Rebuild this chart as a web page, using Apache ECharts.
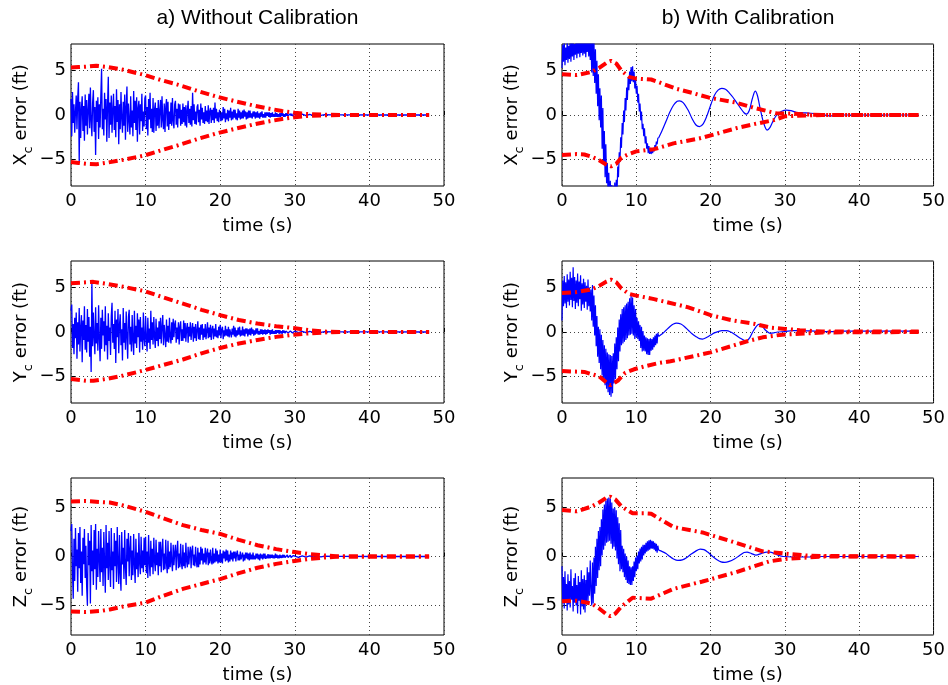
<!DOCTYPE html>
<html><head><meta charset="utf-8">
<script src="https://cdn.jsdelivr.net/npm/echarts@6/dist/echarts.min.js"></script>
<style>html,body{margin:0;padding:0;background:#fff}#c{width:948px;height:685px}</style>
</head><body><div id="c"></div><script>
// ---------------- DATA ----------------
const X_TICKS = [0, 10, 20, 30, 40, 50];
const Y_TICKS = [-5, 0, 5];
const TITLES = ['a) Without Calibration', 'b) With Calibration'];
const ROW_SYMBOLS = ['X', 'Y', 'Z'];

// Left column (without calibration): blue samples every DT_LEFT seconds from t=0 to t=30 (one row per second)
const DT_LEFT = 0.1;
const LX_NOISE = [
1.8,-2.4,2.6,-0.9,1.2,-2.0,0.4,2.2,-1.6,1.9,
3.7,-5.3,1.5,-2.6,0.8,2.1,-1.8,1.0,-2.9,2.3,
-1.2,1.7,-2.2,0.6,2.4,-1.5,3.1,-0.7,-2.4,1.4,
2.8,-1.9,0.9,-4.5,1.6,-0.8,2.0,-2.7,1.2,-1.4,
2.2,5.2,-1.6,0.7,-2.3,2.5,-0.5,1.8,-3.0,1.1,
4.3,-2.6,1.4,-1.1,2.2,-2.0,0.6,2.4,-1.7,1.0,
-2.5,2.9,-0.8,1.7,-3.3,1.2,-1.6,2.6,-0.4,-2.0,
1.5,-1.2,2.3,-2.8,0.9,3.2,-1.9,1.3,-0.6,-2.2,
2.1,-1.4,0.5,-2.4,2.7,-0.9,1.6,-1.7,2.0,-3.0,
0.8,1.6,-2.2,1.2,-0.7,2.4,-1.8,0.4,-1.3,1.9,
2.2,-1.6,0.9,-2.3,1.8,-0.5,2.5,-1.5,0.7,-1.9,
1.9,-2.0,0.6,1.4,-1.8,0.8,-1.2,1.7,-1.5,0.5,
1.7,-1.4,2.1,-0.6,-1.6,1.3,-1.9,0.9,1.8,-1.3,
1.5,-1.7,0.4,-1.0,1.4,-1.2,1.9,-0.7,-1.5,1.2,
1.6,-1.1,0.7,-1.4,1.3,-0.4,1.2,-1.2,0.6,-1.0,
1.3,-0.8,0.9,-1.2,1.1,-1.4,0.5,1.6,-0.9,0.7,
-1.1,1.0,-1.3,2.5,-0.6,1.2,-1.0,0.4,-1.1,0.9,
1.2,-0.8,0.6,-1.2,1.3,-0.5,0.8,-0.9,0.3,-1.0,
1.0,-0.7,0.5,-0.8,1.1,-1.0,0.4,0.8,-0.9,0.6,
-0.6,0.8,-0.9,1.4,-0.4,0.7,-0.7,0.3,-0.8,0.6,
0.8,-0.7,0.3,-0.6,0.9,-0.4,0.7,-0.8,0.2,-0.5,
0.6,-0.7,0.5,-0.3,0.8,-0.6,0.4,-0.5,0.6,-0.3,
0.6,-0.5,0.2,-0.6,0.7,-0.3,0.5,-0.5,0.3,-0.4,
0.5,-0.4,0.6,-0.2,0.4,-0.5,0.3,-0.4,0.5,-0.3,
0.5,-0.3,0.2,-0.4,0.4,-0.2,0.4,-0.4,0.3,-0.3,
0.4,-0.3,0.2,-0.4,0.3,-0.2,0.4,-0.3,0.1,-0.3,
0.3,-0.3,0.3,-0.1,0.3,-0.2,0.3,-0.3,0.2,-0.2,
0.3,-0.2,0.1,-0.2,0.3,-0.2,0.2,-0.2,0.1,-0.2,
0.2,-0.2,0.2,-0.1,0.2,-0.2,0.1,-0.2,0.2,-0.1,
0.2,-0.1,0.1,-0.2,0.15,-0.1,0.15,-0.1,0.1,-0.1,
0.1];
const LY_NOISE = [
2.4,3.1,-1.8,0.9,-2.5,1.6,-0.7,2.2,-3.0,1.1,
-1.4,2.7,-2.2,0.5,1.9,-3.4,1.3,-0.9,2.9,-2.0,
0.8,-2.3,2.6,-1.1,1.7,-2.8,0.6,-4.5,5.7,-1.6,
2.2,-0.6,-2.5,2.8,-1.3,1.0,-2.1,3.0,-0.8,-3.3,
1.6,-1.9,2.5,-0.4,1.2,-2.2,2.9,-1.5,0.7,-3.1,
2.1,-1.0,0.5,-2.6,1.8,3.3,-1.2,0.9,-1.9,2.4,
-3.5,1.4,-0.6,2.6,-2.4,0.8,2.0,-1.5,0.3,-3.2,
2.7,-1.2,1.0,-2.0,2.3,-0.5,-3.0,1.7,2.5,-1.4,
0.6,-2.2,1.9,-0.9,-2.6,2.4,-1.3,0.7,-1.8,2.1,
-0.6,1.4,-2.3,1.7,-1.1,0.5,-2.0,2.2,-0.8,-1.6,
1.8,-0.7,-2.2,1.6,-1.2,0.4,-1.9,2.4,-0.9,1.1,
-1.4,1.7,-0.6,-1.8,1.5,-1.0,0.5,-1.6,1.2,-0.8,
1.6,-1.3,0.6,1.9,-1.5,0.8,-0.4,-1.7,1.4,-1.1,
0.7,-1.2,1.6,-0.5,-1.3,1.1,-0.9,1.5,-0.6,0.9,
1.3,-1.2,0.5,-0.8,1.1,-1.4,0.6,1.2,-1.0,0.3,
-1.0,1.3,-0.7,1.0,-1.1,0.4,1.0,-1.2,0.6,-0.5,
1.1,-0.9,0.3,1.0,-1.1,0.6,-0.7,0.9,-1.0,0.2,
1.2,-0.8,0.5,-0.9,0.8,-0.3,0.9,-0.9,0.4,-0.6,
0.9,-0.8,0.2,1.1,-0.7,0.5,-0.6,0.8,-0.9,0.3,
0.7,-0.8,0.4,-0.5,0.9,-0.6,0.2,-0.7,0.6,-0.4,
0.8,-0.7,0.3,0.6,-0.8,0.2,-0.5,0.7,-0.4,0.3,
-0.5,0.6,-0.6,0.3,0.5,-0.6,0.4,-0.3,0.7,-0.5,
0.5,-0.6,0.2,-0.4,0.5,-0.3,0.6,-0.5,0.2,-0.4,
0.6,-0.4,0.3,-0.5,0.4,-0.2,0.4,-0.5,0.3,-0.3,
0.4,-0.4,0.5,-0.2,0.3,-0.4,0.2,-0.3,0.4,-0.2,
0.4,-0.3,0.1,-0.3,0.3,-0.2,0.3,-0.3,0.2,-0.2,
0.3,-0.3,0.2,-0.2,0.3,-0.1,0.2,-0.3,0.2,-0.2,
0.3,-0.2,0.1,-0.2,0.2,-0.2,0.2,-0.1,0.2,-0.2,
0.2,-0.15,0.1,-0.2,0.2,-0.1,0.15,-0.15,0.1,-0.1,
0.15,-0.1,0.1,-0.15,0.1,-0.1,0.1,-0.1,0.12,-0.08,
0.1];
const LZ_NOISE = [
2.6,3.3,-1.7,-4.3,1.8,-2.5,2.9,-1.0,0.7,-3.6,
2.4,-1.2,3.0,-2.7,0.5,-4.0,1.9,-0.8,2.8,-2.2,
1.1,-3.1,-5.0,2.4,-0.9,1.6,-4.8,3.2,-1.5,0.6,
-2.9,2.7,-1.3,3.3,-3.4,0.8,-2.1,2.6,-0.4,-2.6,
2.8,-1.6,0.9,-3.0,2.5,-0.7,-3.7,3.2,-1.2,1.4,
-2.4,2.6,-0.9,-3.1,2.9,-1.4,0.5,-3.3,2.4,-1.0,
1.6,-2.6,3.0,-0.6,-2.8,2.2,-1.7,-3.5,2.5,-0.8,
0.9,-2.3,2.7,-1.1,-2.9,1.8,-0.5,2.4,-2.0,0.7,
2.1,-2.4,0.6,-1.9,2.3,-0.8,-2.7,1.8,-1.3,0.4,
-2.1,2.4,-0.7,-1.8,2.0,-1.2,0.6,-1.6,1.9,-0.9,
2.0,-1.7,0.5,-2.2,2.2,-0.6,-2.0,1.6,-1.1,0.8,
-1.8,1.9,-0.5,-1.5,1.7,-0.9,0.4,-1.9,1.5,-1.0,
1.5,-1.6,0.6,1.8,-1.4,0.3,-1.3,1.7,-0.7,-1.7,
1.6,-1.3,0.5,-1.1,1.4,-0.6,-1.5,1.2,-0.9,0.4,
1.2,-1.4,0.5,1.6,-1.2,0.3,-1.1,1.3,-0.7,-1.3,
1.2,-1.0,0.4,-1.2,1.4,-0.5,-1.1,1.0,-0.8,0.3,
1.0,-1.2,0.6,1.1,-0.9,0.2,-1.0,1.0,-0.5,-1.1,
0.9,-1.1,0.4,-0.8,1.0,-0.4,0.8,-0.8,0.3,-0.6,
0.9,-0.8,0.3,0.8,-0.9,0.4,-0.7,0.7,-0.4,-0.8,
0.9,-0.7,0.3,-0.6,0.8,-0.5,0.6,-0.7,0.2,-0.6,
0.7,-0.6,0.3,-0.7,0.6,-0.2,0.5,-0.5,0.7,-0.4,
0.6,-0.6,0.2,-0.5,0.6,-0.3,0.4,-0.5,0.5,-0.2,
0.5,-0.5,0.3,0.6,-0.4,0.2,-0.4,0.5,-0.3,-0.4,
0.4,-0.5,0.2,-0.4,0.4,-0.2,0.4,-0.3,0.3,-0.4,
0.4,-0.3,0.2,-0.3,0.4,-0.3,0.1,-0.3,0.3,-0.2,
0.3,-0.3,0.2,-0.4,0.3,-0.2,0.2,-0.3,0.3,-0.2,
0.3,-0.25,0.1,-0.2,0.25,-0.2,0.2,-0.2,0.2,-0.15,
0.2,-0.2,0.1,-0.2,0.3,-0.15,0.2,-0.2,0.1,-0.2,
0.2,-0.15,0.1,-0.15,0.2,-0.1,0.15,-0.1,0.1,-0.15,
0.15,-0.1,0.1,-0.1,0.12,-0.1,0.1,-0.08,0.1,-0.1,
0.08];
const LEFT_TAIL_T = [30.5,31,31.5,32,32.5,33,33.5,34,35,36,42,48];
const LX_TAIL_V = [-0.1,0.1,-0.08,0.08,-0.06,0.06,-0.04,0.04,0.02,0.02,0,0];
const LY_TAIL_V = [-0.08,0.08,-0.07,0.06,-0.05,0.05,-0.04,0.03,0.02,0.01,0.01,0];
const LZ_TAIL_V = [-0.08,0.07,-0.06,0.06,-0.05,0.04,-0.04,0.03,0.02,0.01,0,0];

// Left column bounds (red)
const LX_BOUND_T = [0,1,2,3.4,5,7,9.9,12,14.4,17,19.4,22,24.3,26.3,28.3,30,31.5,34,36,48];
const LX_UP = [5.35,5.4,5.45,5.55,5.4,5.1,4.5,3.95,3.4,2.7,2.1,1.55,1.1,0.75,0.45,0.25,0.12,0.03,0,0];
const LX_LO = [-5.3,-5.4,-5.5,-5.55,-5.35,-5.05,-4.55,-4.0,-3.4,-2.7,-2.1,-1.55,-1.1,-0.75,-0.45,-0.25,-0.12,-0.03,0,0];
const LY_BOUND_T = [0,2,3,5,7,9.9,12,15,17.5,20,22.5,25,27.5,29.8,32,34,36,48];
const LY_UP = [5.5,5.6,5.65,5.4,5.1,4.6,4.0,3.2,2.5,1.9,1.35,0.95,0.65,0.45,0.2,0.05,0,0];
const LY_LO = [-5.3,-5.5,-5.5,-5.25,-4.9,-4.3,-3.8,-3.1,-2.4,-1.8,-1.3,-0.9,-0.55,-0.3,-0.15,-0.05,0,0];
const LZ_BOUND_T = [0,2,4,5.2,7,10,12,15,17.5,20,22.5,25,27.5,30,32,34,36,48];
const LZ_UP = [5.6,5.65,5.55,5.5,5.2,4.55,4.0,3.2,2.7,2.3,1.7,1.15,0.75,0.45,0.25,0.1,0,0];
const LZ_LO = [-5.6,-5.65,-5.55,-5.4,-5.1,-4.7,-4.1,-3.3,-2.8,-2.3,-1.7,-1.15,-0.75,-0.45,-0.25,-0.1,0,0];

// Right column (with calibration): noisy start sampled every DT_RIGHT seconds from t=0 to 13 s
const DT_RIGHT = 0.1;
const RX_NOISE = [5.3,7.9,6.0,8.4,5.6,7.6,6.2,8.3,5.9,7.8,
6.3,8.5,6.0,8.1,6.6,8.6,6.2,8.0,6.8,8.7,
6.4,8.4,6.9,8.8,6.5,8.3,7.0,8.9,6.7,8.5,
6.9,8.8,6.5,8.6,7.1,8.9,6.6,8.4,6.2,8.5,
4.8,9.0,4.4,8.4,3.6,7.4,2.4,6.1,1.0,4.6,
-0.6,3.0,-1.4,2.2,-3.8,0.8,-5.4,-1.8,-7.0,-3.3,
-7.7,-5.4,-9.0,-6.5,-10.0,-7.4,-10.7,-7.9,-11.0,-8.0,
-10.9,-7.6,-10.3,-7.3,-9.0,-5.8,-7.0,-4.2,-5.3,-2.5,
-3.7,-0.9,-2.2,0.5,-0.8,1.9,0.5,3.1,1.7,4.2,
2.8,4.9,3.5,5.4,3.8,5.5,3.7,4.9,3.0,4.0,
2.4,3.3,1.4,2.4,0.4,1.3,-0.6,0.4,-1.6,-1.0,
-2.4,-1.5,-3.2,-2.4,-3.8,-3.2,-4.3,-3.5,-4.4,-3.7,
-4.4,-3.8,-4.3,-3.7,-4.1,-3.4,-3.7,-3.0,-3.3,-2.6,
-2.6];
const RY_NOISE = [1.3,5.8,2.9,6.3,3.2,5.6,2.7,6.5,3.4,5.9,
3.0,6.8,3.6,6.1,2.8,7.3,3.5,6.2,2.6,5.8,
3.3,6.6,2.9,5.7,3.7,6.4,2.4,5.5,3.1,6.0,
2.7,5.6,3.4,5.2,2.5,5.9,2.9,5.0,2.3,4.8,
1.3,5.3,0.6,4.1,-0.4,3.0,-1.6,1.8,-2.8,0.6,
-3.5,0.3,-4.2,-0.3,-4.9,-0.9,-5.5,-1.5,-6.0,-1.9,
-6.4,-2.3,-6.8,-2.5,-7.1,-2.6,-7.3,-2.7,-6.9,-2.4,
-5.8,-1.3,-5.3,-0.6,-4.2,0.5,-3.3,1.4,-2.2,2.0,
-1.5,2.6,-1.3,2.8,-1.1,3.0,-0.9,3.2,-0.7,3.4,
-0.4,3.8,-0.3,4.1,-0.2,3.9,-0.4,3.0,-0.8,2.6,
-0.6,1.6,-0.8,1.2,-1.0,0.8,-1.8,0.6,-2.2,0.1,
-2.1,-0.4,-2.2,-0.6,-2.5,-0.7,-2.6,-0.8,-2.6,-0.7,
-2.1,-0.8,-2.0,-0.6,-1.7,-0.4,-1.5,-0.2,-1.3,-0.1,
-0.5];
const RZ_NOISE = [-1.0,-4.8,-2.1,-5.3,-1.5,-4.6,-2.8,-5.5,-1.8,-4.9,
-2.5,-5.2,-1.3,-4.4,-3.0,-5.6,-2.2,-4.7,-1.7,-5.0,
-2.9,-5.8,-2.0,-4.5,-2.6,-5.9,-1.4,-5.1,-2.3,-5.4,
-1.9,-5.7,-2.4,-4.8,-1.1,-4.6,-1.6,-4.0,-0.4,-3.5,
-5.0,-0.6,-4.8,-0.1,-3.8,1.0,-3.0,1.8,-2.2,2.6,
-1.4,3.0,-1.0,3.8,0.1,4.8,0.7,5.3,1.1,5.7,
1.4,5.9,1.5,6.0,1.6,5.9,1.3,5.5,0.8,4.9,
1.0,5.0,0.6,4.7,-0.2,4.0,-0.8,3.4,-1.5,2.7,
-1.3,1.1,-1.6,0.8,-2.1,0.3,-2.4,0.0,-2.7,-0.4,
-2.8,-1.0,-2.9,-1.1,-2.9,-1.0,-2.5,-0.5,-2.1,-0.1,
-1.5,0.1,-1.3,0.5,-0.7,0.8,-0.5,1.0,-0.3,1.2,
0.1,1.2,0.3,1.4,0.5,1.55,0.6,1.65,0.7,1.7,
0.8,1.6,0.8,1.55,0.7,1.4,0.55,1.3,0.4,1.1,
0.65];
// Right column smooth continuation (time, value)
const RX_SMOOTH_T = [13,13.5,14,14.5,15,15.5,15.8,16.3,17,17.5,18,18.5,19,19.5,20,20.5,21,21.5,22,22.5,23,23.5,24,24.5,24.8,25.2,25.6,26,26.3,26.7,27.1,27.6,28,28.5,29,29.5,30.2,30.8,31.5,32.5,33.5,35,36,37,38,48];
const RX_SMOOTH_V = [-2.6,-1.7,-0.7,0.3,1.1,1.55,1.6,1.4,0.5,-0.4,-1.1,-1.3,-1.0,-0.1,1.1,2.2,2.8,3.0,2.9,2.5,2.0,1.4,0.8,0.25,0.1,0.5,1.8,2.7,2.2,0.6,-0.8,-1.7,-1.4,-0.5,0.1,0.4,0.55,0.5,0.3,0.25,0.2,0.05,-0.1,-0.05,0,0];
const RY_SMOOTH_T = [13,13.5,14,14.5,15,15.4,16,16.5,17,17.5,18,18.5,18.9,19.5,20,20.5,21,21.5,22.1,22.7,23.3,24,24.8,25.3,25.8,26.5,26.9,27.4,28,28.5,29,30,31,32,34,36,38,48];
const RY_SMOOTH_V = [-0.5,-0.2,0.2,0.6,0.9,1.0,0.9,0.6,0.2,-0.2,-0.5,-0.75,-0.8,-0.6,-0.35,-0.1,0.05,0.15,0.15,0.0,-0.3,-0.7,-1.05,-0.6,0.2,0.85,0.7,0.2,-0.15,-0.1,0.0,0.05,0.15,0.15,0.1,0.05,0.1,0.1];
const RZ_SMOOTH_T = [13,13.5,14,14.5,15,15.6,16.2,16.8,17.4,18,18.6,19.1,19.6,20.2,20.8,21.4,21.9,22.5,23.2,23.9,24.5,24.9,25.5,26.1,26.8,27.5,28,28.6,29.2,29.8,31,33,35,48];
const RZ_SMOOTH_V = [0.65,0.5,0.3,0.0,-0.25,-0.4,-0.35,-0.1,0.25,0.55,0.75,0.7,0.45,0.05,-0.3,-0.55,-0.6,-0.5,-0.25,0.1,0.4,0.45,0.3,0.15,0.3,0.45,0.45,0.3,0.1,0.0,-0.05,-0.05,0,0];

// Right column bounds (red)
const RX_UP_T = [0,2,4,5,6,6.6,7.3,8,9,10,12,13,15.4,17.5,19.8,23.4,26.1,28.8,31,33,35,48];
const RX_UP = [4.6,4.5,4.85,5.3,5.9,6.1,5.8,5.0,4.3,4.1,4.0,3.7,2.95,2.5,1.95,1.4,0.75,0.2,0.15,0.05,0,0];
const RX_LO_T = [0,2,3,4,5,6,6.6,7.3,8,9,10,12.4,15,18.7,23.4,26,28.4,30,33,35,48];
const RX_LO = [-4.5,-4.4,-4.45,-4.7,-5.1,-5.6,-5.8,-5.5,-4.8,-4.4,-4.1,-3.85,-3.2,-2.6,-1.5,-1.0,-0.6,-0.15,-0.05,0,0];
const RY_UP_T = [0,2,4,5,6,6.6,7.3,8,9,10,12.4,16.9,20,22.7,26,28,30,32,35,48];
const RY_UP = [4.4,4.5,4.8,5.2,5.7,5.9,5.6,4.9,4.3,4.1,3.7,2.8,1.9,1.35,0.9,0.5,0.35,0.2,0.05,0.05];
const RY_LO_T = [0,3,5,6,6.5,7.5,8.5,9.7,11,13,14.6,20,24.7,27,29.6,32,35,48];
const RY_LO = [-4.4,-4.5,-5.0,-5.7,-6.0,-5.5,-4.6,-4.2,-3.9,-3.5,-3.3,-2.3,-1.1,-0.6,-0.3,-0.2,-0.05,0];
const RZ_UP_T = [0,2,4,5,6,6.5,7.2,8,9.5,11,12,15,18.9,23.4,27,30.6,33,35,48];
const RZ_UP = [4.75,4.6,5.1,5.5,6.0,6.1,5.8,5.1,4.4,4.4,4.35,3.0,2.45,1.4,0.53,0.25,0.1,0.05,0];
const RZ_LO_T = [0,2,4,5,6,6.5,7.2,8,9.5,12,15,18.9,23.4,27.9,30,33,35,48];
const RZ_LO = [-4.55,-4.5,-4.8,-5.3,-5.9,-6.1,-5.8,-5.1,-4.2,-4.3,-3.3,-2.55,-1.6,-0.5,-0.25,-0.1,0,0];

// ---------------- BUILD ----------------
const FONT = '"DejaVu Sans", Verdana, sans-serif';
const TITLE_FONT = '"Liberation Sans", Arial, Helvetica, sans-serif';
const BLUE = '#0000ff', RED = '#ff0000';
function pairs(ts, vs) { return ts.map((t, i) => [t, vs[i]]); }
function sampled(vals, dt) { return vals.map((v, i) => [Math.round(i * dt * 100) / 100, v]); }

const panels = [
  {col:0,row:0, bw:1.3, blue:[sampled(LX_NOISE,DT_LEFT).concat(pairs(LEFT_TAIL_T,LX_TAIL_V))], up:pairs(LX_BOUND_T,LX_UP), lo:pairs(LX_BOUND_T,LX_LO)},
  {col:0,row:1, bw:1.3, blue:[sampled(LY_NOISE,DT_LEFT).concat(pairs(LEFT_TAIL_T,LY_TAIL_V))], up:pairs(LY_BOUND_T,LY_UP), lo:pairs(LY_BOUND_T,LY_LO)},
  {col:0,row:2, bw:1.3, blue:[sampled(LZ_NOISE,DT_LEFT).concat(pairs(LEFT_TAIL_T,LZ_TAIL_V))], up:pairs(LZ_BOUND_T,LZ_UP), lo:pairs(LZ_BOUND_T,LZ_LO)},
  {col:1,row:0, bw:1.2, blue:[sampled(RX_NOISE,DT_RIGHT), pairs(RX_SMOOTH_T,RX_SMOOTH_V)], up:pairs(RX_UP_T,RX_UP), lo:pairs(RX_LO_T,RX_LO)},
  {col:1,row:1, bw:1.2, blue:[sampled(RY_NOISE,DT_RIGHT), pairs(RY_SMOOTH_T,RY_SMOOTH_V)], up:pairs(RY_UP_T,RY_UP), lo:pairs(RY_LO_T,RY_LO)},
  {col:1,row:2, bw:1.2, blue:[sampled(RZ_NOISE,DT_RIGHT), pairs(RZ_SMOOTH_T,RZ_SMOOTH_V)], up:pairs(RZ_UP_T,RZ_UP), lo:pairs(RZ_LO_T,RZ_LO)}
];

const COLS = [{left:71, width:373}, {left:562, width:372}];
const ROWS = [{top:44, height:142}, {top:261, height:142}, {top:478, height:157}];

const grids = [], xAxes = [], yAxes = [], series = [];
const gridLineStyle = {color:'#444', type:[1,3], width:1};
panels.forEach((p, i) => {
  grids.push({left:COLS[p.col].left, width:COLS[p.col].width, top:ROWS[p.row].top, height:ROWS[p.row].height,
    show:true, borderColor:'#000', borderWidth:1, backgroundColor:'#fff'});
  xAxes.push({type:'value', gridIndex:i, min:X_TICKS[0], max:X_TICKS[X_TICKS.length-1], interval:10,
    axisLine:{show:false}, axisTick:{inside:true, length:4, lineStyle:{color:'#000'}},
    axisLabel:{fontSize:18, color:'#000', margin:6, fontFamily:FONT},
    splitLine:{show:true, lineStyle:gridLineStyle},
    name:'time (s)', nameLocation:'middle', nameGap:31,
    nameTextStyle:{fontSize:18, color:'#000', fontFamily:FONT}});
  yAxes.push({type:'value', gridIndex:i, min:-8, max:8,
    axisLine:{show:false},
    axisTick:{inside:true, length:4, customValues:Y_TICKS, lineStyle:{color:'#000'}},
    axisLabel:{customValues:Y_TICKS, fontSize:18, color:'#000', margin:5, fontFamily:FONT,
      formatter: v => String(v).replace('-', '\u2212')},
    splitLine:{show:false},
    name:'{b|' + ROW_SYMBOLS[p.row] + '}{s|c}{b| error (ft)}', nameLocation:'middle', nameGap:21, nameRotate:90,
    nameTextStyle:{color:'#000', fontFamily:FONT,
      rich:{b:{fontSize:18, lineHeight:20, verticalAlign:'top', color:'#000', fontFamily:FONT},
            s:{fontSize:13, lineHeight:34, color:'#000', fontFamily:FONT}}}});
  p.blue.forEach((d, k) => {
    const s = {type:'line', xAxisIndex:i, yAxisIndex:i, data:d, showSymbol:false, symbol:'none',
      lineStyle:{color:BLUE, width:p.bw}, z:2, silent:true, animation:false, clip:true};
    if (k === 0) {
      s.markLine = {silent:true, symbol:'none', z:1, animation:false, label:{show:false},
        lineStyle:gridLineStyle, data: Y_TICKS.map(v => ({yAxis:v}))};
    } else {
      s.smooth = 0.3;
    }
    series.push(s);
  });
  [p.up, p.lo].forEach(d => {
    series.push({type:'line', xAxisIndex:i, yAxisIndex:i, data:d, showSymbol:false, symbol:'none',
      lineStyle:{color:RED, width:4, type:[9,4,2,4]}, z:3, silent:true, animation:false, clip:true});
  });
});

const chart = echarts.init(document.getElementById('c'), null, {renderer:'canvas'});
chart.setOption({
  animation:false,
  backgroundColor:'#fff',
  textStyle:{fontFamily:FONT},
  grid:grids, xAxis:xAxes, yAxis:yAxes, series:series,
  graphic:[
    {type:'text', x:COLS[0].left + COLS[0].width/2, y:18,
      style:{text:TITLES[0], font:'21px ' + TITLE_FONT, fill:'#000', align:'center', verticalAlign:'middle'}},
    {type:'text', x:COLS[1].left + COLS[1].width/2, y:18,
      style:{text:TITLES[1], font:'21px ' + TITLE_FONT, fill:'#000', align:'center', verticalAlign:'middle'}}
  ]
});
</script></body></html>
